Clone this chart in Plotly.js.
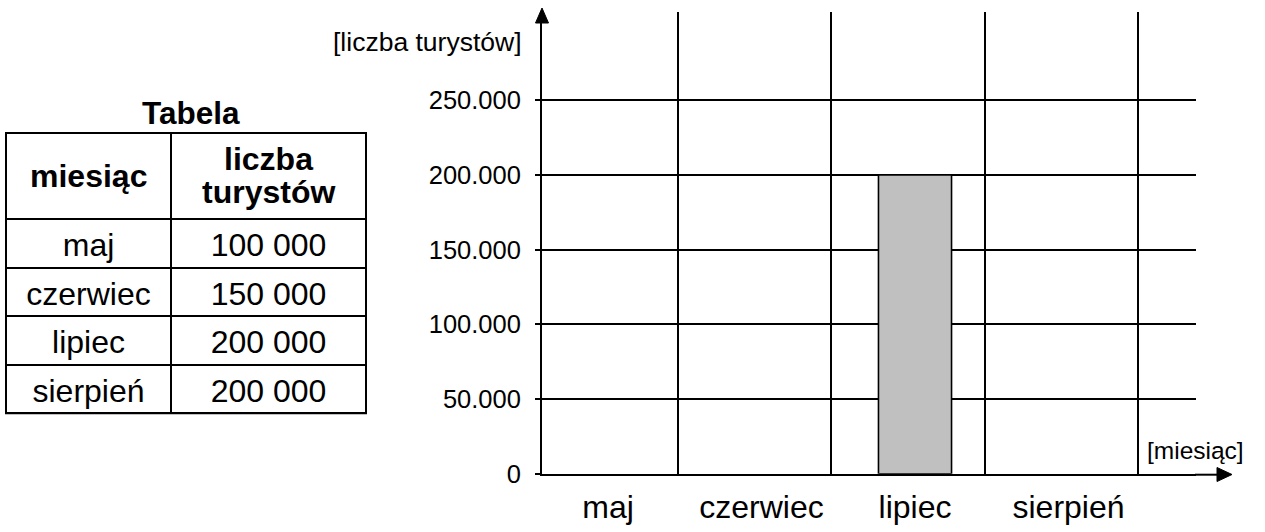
<!DOCTYPE html>
<html>
<head>
<meta charset="utf-8">
<script src="https://cdn.plot.ly/plotly-3.0.1.min.js"></script>
<style>
html,body{margin:0;padding:0;background:#fff;}
#chart{width:1265px;height:532px;}
#chart .cell-text{translate:0px 5px;}
</style>
</head>
<body>
<div id="chart"></div>
<script>
// ---- data ----
var months = ['maj', 'czerwiec', 'lipiec', 'sierpień'];
var tourists = [100000, 150000, 200000, 200000];
var drawnMonths = ['lipiec'];
var drawnValues = [200000];
var yTickVals = [0, 50000, 100000, 150000, 200000, 250000];
var yTickText = ['0', '50.000', '100.000', '150.000', '200.000', '250.000'];
var headerCol1 = ['miesiąc'];
var headerCol2 = ['liczba', 'turystów'];

// ---- helpers ----
var W = 1265, H = 532;
function px(x) { return x / W; }
function py(y) { return 1 - y / H; }
function fmtSpace(v) { return String(v).replace(/\B(?=(\d{3})+(?!\d))/g, ' '); }

var FONT = 'Liberation Sans, Arial, sans-serif';

var barTrace = {
  type: 'bar',
  x: drawnMonths.map(function (m) { return months.indexOf(m); }),
  y: drawnValues,
  width: 0.476,
  marker: { color: '#c0c0c0', line: { color: '#000', width: 1.6 } },
  hoverinfo: 'skip',
  showlegend: false
};

var tableTrace = {
  type: 'table',
  domain: { x: [px(6), px(366)], y: [py(418), py(132.7)] },
  columnwidth: [165, 195],
  header: {
    values: [[''], ['']],
    align: 'center',
    height: 86.6,
    font: { family: FONT, size: 32, color: '#000' },
    line: { color: '#000', width: 2 },
    fill: { color: '#fff' }
  },
  cells: {
    values: [months, tourists.map(fmtSpace)],
    align: 'center',
    height: 48.5,
    font: { family: FONT, size: 32, color: '#000' },
    line: { color: '#000', width: 2 },
    fill: { color: '#fff' }
  }
};

var boundaries = [0.455, 1.455, 2.455, 3.455];

var headerAnn = [];
headerCol1.forEach(function (t) {
  headerAnn.push({ text: '<b>' + t + '</b>', xref: 'paper', yref: 'paper', x: px(88.5), y: py(175.5),
    xanchor: 'center', yanchor: 'middle', showarrow: false, font: { family: FONT, size: 32, color: '#000' } });
});
headerCol2.forEach(function (t, i) {
  headerAnn.push({ text: '<b>' + t + '</b>', xref: 'paper', yref: 'paper', x: px(268.5), y: py(158.8 + i * 33.3),
    xanchor: 'center', yanchor: 'middle', showarrow: false, font: { family: FONT, size: 32, color: '#000' } });
});

var layout = {
  width: W, height: H,
  margin: { l: 0, r: 0, t: 0, b: 0 },
  paper_bgcolor: '#fff', plot_bgcolor: '#fff',
  font: { family: FONT, color: '#000' },
  showlegend: false,
  xaxis: {
    domain: [px(542), px(1196)],
    range: [-0.43, 3.8306],
    tickmode: 'array',
    tickvals: months.map(function (m, i) { return i; }),
    ticktext: months,
    ticks: '',
    showgrid: false,
    zeroline: false,
    showline: true, linecolor: '#000', linewidth: 2,
    tickfont: { family: FONT, size: 32, color: '#000' },
    ticklabelstandoff: 4,
    minor: { tickmode: 'array', tickvals: boundaries, showgrid: true, gridcolor: '#000', gridwidth: 2, ticks: '' },
    fixedrange: true
  },
  yaxis: {
    domain: [py(473.7), py(12)],
    range: [0, 309100],
    tickmode: 'array',
    tickvals: yTickVals,
    ticktext: yTickText,
    ticks: 'outside', ticklen: 5, tickwidth: 2, tickcolor: '#000',
    showgrid: true, gridcolor: '#000', gridwidth: 2,
    zeroline: false,
    showline: true, linecolor: '#000', linewidth: 2,
    tickfont: { family: FONT, size: 25.5, color: '#000' },
    ticklabelstandoff: 9,
    fixedrange: true
  },
  shapes: [
    { type: 'line', xref: 'paper', yref: 'paper',
      x0: px(5), y0: py(413.3), x1: px(367), y1: py(413.3),
      line: { color: '#000', width: 2 } },
    { type: 'path', xref: 'paper', yref: 'paper',
      path: 'M ' + px(542) + ' ' + py(8) + ' L ' + px(535.5) + ' ' + py(23) + ' L ' + px(548.5) + ' ' + py(23) + ' Z',
      fillcolor: '#000', line: { color: '#000', width: 1 } },
    { type: 'line', xref: 'paper', yref: 'paper',
      x0: px(1195), y0: py(474.7), x1: px(1218), y1: py(474.7),
      line: { color: '#000', width: 2 } },
    { type: 'path', xref: 'paper', yref: 'paper',
      path: 'M ' + px(1232) + ' ' + py(474.5) + ' L ' + px(1217) + ' ' + py(467.5) + ' L ' + px(1217) + ' ' + py(481.5) + ' Z',
      fillcolor: '#000', line: { color: '#000', width: 1 } }
  ],
  annotations: [
    { text: '<b>Tabela</b>', xref: 'paper', yref: 'paper', x: px(191), y: py(112.9),
      xanchor: 'center', yanchor: 'middle', showarrow: false,
      font: { family: FONT, size: 31.5, color: '#000' } },
    { text: '[liczba turystów]', xref: 'paper', yref: 'paper', x: px(524), y: py(41.5),
      xanchor: 'right', yanchor: 'middle', showarrow: false,
      font: { family: FONT, size: 26.5, color: '#000' } },
    { text: '[miesiąc]', xref: 'paper', yref: 'paper', x: px(1246), y: py(450.5),
      xanchor: 'right', yanchor: 'middle', showarrow: false,
      font: { family: FONT, size: 24.5, color: '#000' } }
  ].concat(headerAnn)
};

Plotly.newPlot('chart', [tableTrace, barTrace], layout, { displayModeBar: false, staticPlot: true });
</script>
</body>
</html>
